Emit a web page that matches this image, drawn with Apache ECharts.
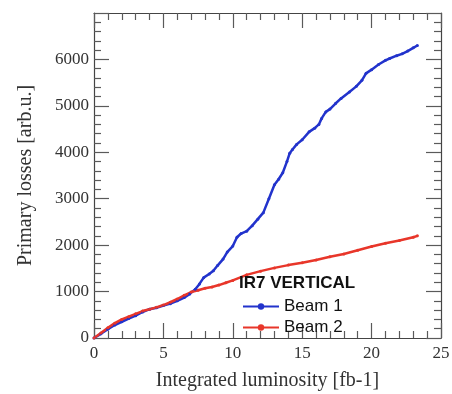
<!DOCTYPE html>
<html>
<head>
<meta charset="utf-8">
<script src="https://cdn.jsdelivr.net/npm/echarts@6/dist/echarts.min.js"></script>
<style>
  html, body { margin: 0; padding: 0; background: #fff; }
  #chart { width: 452px; height: 394px; }
</style>
</head>
<body>
<div id="chart"></div>
<script>
// beam 1 (blue) - integrated luminosity / primary losses
var beam1X = [0, 0.5, 1, 1.5, 2, 2.5, 3, 3.5, 4, 4.5, 5, 5.5, 6, 6.5, 6.9, 7.3, 7.6, 7.9, 8.3, 8.6, 8.9, 9.3, 9.6, 10.0, 10.3, 10.6, 11.0, 11.4, 11.8, 12.2, 12.6, 13.0, 13.3, 13.6, 13.9, 14.1, 14.3, 14.6, 15.0, 15.5, 15.9, 16.2, 16.4, 16.7, 17.0, 17.4, 17.8, 18.4, 18.9, 19.3, 19.6, 20.0, 20.5, 21.0, 21.3, 21.8, 22.2, 22.6, 23.0, 23.3];
var beam1Y = [0, 90, 190, 280, 350, 420, 480, 560, 620, 650, 700, 740, 800, 870, 950, 1050, 1165, 1300, 1380, 1450, 1560, 1700, 1850, 1980, 2170, 2250, 2300, 2420, 2560, 2700, 3000, 3300, 3420, 3560, 3800, 3980, 4060, 4170, 4270, 4440, 4520, 4600, 4730, 4870, 4930, 5050, 5160, 5300, 5420, 5550, 5700, 5780, 5890, 5980, 6020, 6080, 6120, 6180, 6250, 6300];
// beam 2 (red)
var beam2X = [0, 0.5, 1, 1.5, 2, 2.5, 3, 3.5, 4, 4.5, 5, 5.5, 6, 6.5, 7, 7.5, 8, 8.5, 9, 9.5, 10, 11, 12, 13, 14, 15, 16, 17, 18, 19, 20, 21, 22, 23, 23.3];
var beam2Y = [0, 110, 220, 320, 400, 460, 520, 580, 620, 660, 710, 770, 840, 920, 990, 1030, 1070, 1100, 1140, 1190, 1240, 1360, 1440, 1510, 1570, 1620, 1680, 1750, 1810, 1890, 1970, 2040, 2100, 2170, 2200];
var xTicks = { min: 0, max: 25, step: 5 };
var yTicks = { min: 0, max: 7000, step: 1000 };

var chart = echarts.init(document.getElementById('chart'));

function pairs(xs, ys) {
  return xs.map(function (x, i) { return [x, ys[i]]; });
}

var serif = 'Liberation Serif';

// main axes stay on zero (= frame edge), mirrored ones must not snap to zero
function makeAxis(t, pos, showLabel, mirror, extra) {
  var ax = {
    type: 'value',
    position: pos,
    min: t.min,
    max: t.max,
    interval: t.step,
    axisLine: { show: true, lineStyle: { color: '#444', width: 1.2 } },
    axisTick: { show: true, inside: true, length: 15, lineStyle: { color: '#5a5a5a', width: 1.2 } },
    minorTick: { show: true, splitNumber: 5, length: 7, lineStyle: { color: '#5a5a5a', width: 1.2 } },
    splitLine: { show: false },
    axisLabel: { show: showLabel, color: '#333', fontFamily: serif, fontSize: 17 }
  };
  if (mirror) ax.axisLine.onZero = false;
  return Object.assign(ax, extra || {});
}

var option = {
  backgroundColor: '#fff',
  animation: false,
  grid: { left: 94, right: 11, top: 13, bottom: 56, outerBoundsMode: 'none' },
  title: {
    text: 'IR7 VERTICAL',
    left: 234,
    top: 270,
    textStyle: { fontFamily: 'Liberation Sans', fontWeight: 'bold', fontSize: 17, color: '#111' }
  },
  legend: {
    orient: 'vertical',
    left: 237,
    top: 293,
    itemWidth: 36,
    itemHeight: 8,
    itemGap: 4,
    textStyle: { fontFamily: 'Liberation Sans', fontSize: 17, color: '#111' },
    data: ['Beam 1', 'Beam 2']
  },
  xAxis: [
    makeAxis(xTicks, 'bottom', true, false, {
      name: 'Integrated luminosity [fb-1]',
      nameLocation: 'middle',
      nameGap: 33,
      nameTextStyle: { fontFamily: serif, fontSize: 20, color: '#333' },
      axisLabel: { show: true, color: '#333', fontFamily: serif, fontSize: 17, margin: 7 }
    }),
    makeAxis(xTicks, 'top', false, true)
  ],
  yAxis: [
    makeAxis(yTicks, 'left', true, false, {
      name: 'Primary losses [arb.u.]',
      nameLocation: 'middle',
      nameGap: 58,
      nameTextStyle: { fontFamily: serif, fontSize: 20, color: '#333' },
      axisLabel: {
        show: true, color: '#333', fontFamily: serif, fontSize: 17, margin: 5,
        formatter: function (v) { return v === 7000 ? '' : v; }
      }
    }),
    makeAxis(yTicks, 'right', false, true)
  ],
  series: [
    {
      name: 'Beam 1',
      type: 'line',
      data: pairs(beam1X, beam1Y),
      symbol: 'circle',
      symbolSize: 3,
      showSymbol: true,
      lineStyle: { color: '#2233cc', width: 2.5 },
      itemStyle: { color: '#2233cc' }
    },
    {
      name: 'Beam 2',
      type: 'line',
      data: pairs(beam2X, beam2Y),
      symbol: 'circle',
      symbolSize: 3,
      showSymbol: true,
      lineStyle: { color: '#e8362a', width: 2.5 },
      itemStyle: { color: '#e8362a' }
    }
  ]
};

chart.setOption(option);
</script>
</body>
</html>
